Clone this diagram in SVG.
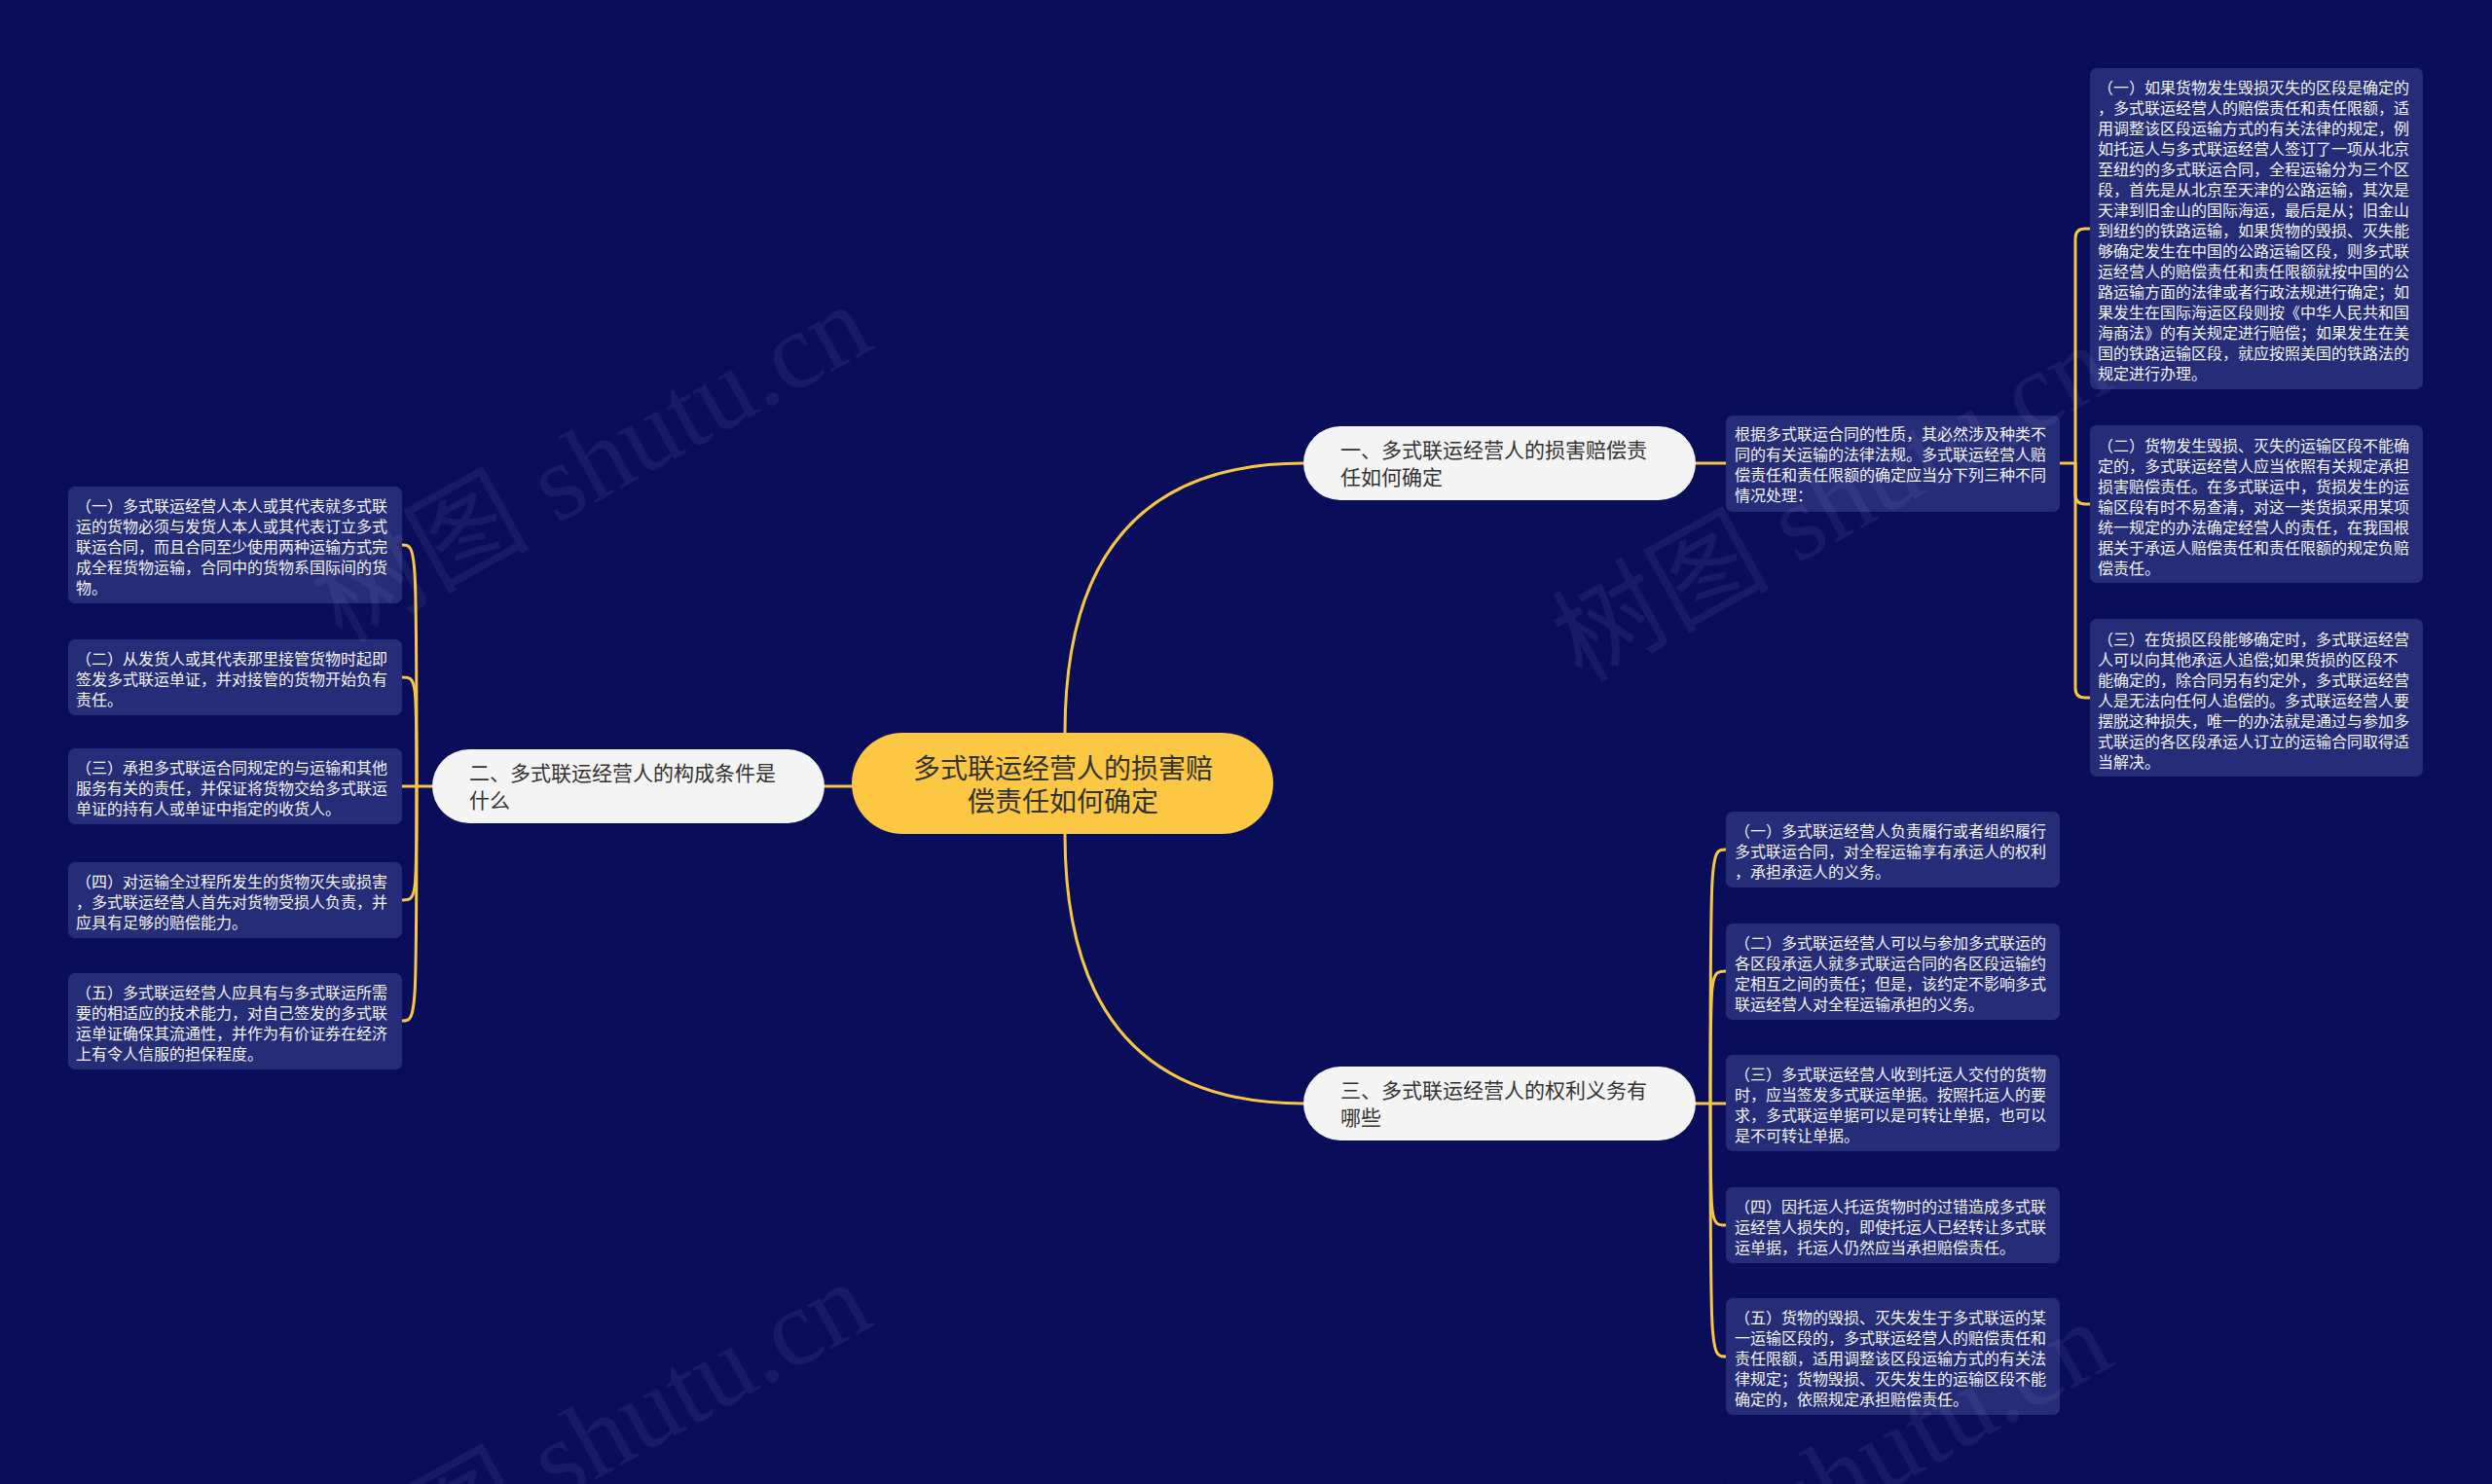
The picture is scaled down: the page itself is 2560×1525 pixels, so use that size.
<svg xmlns="http://www.w3.org/2000/svg" width="2560" height="1525" viewBox="0 0 2560 1525">
<style>
.bg{fill:#0a0e5a}
.conn{fill:none;stroke:#f6c644;stroke-width:3;stroke-linecap:round}
.box{fill:#262d78}
.bt{font-family:"Noto Sans CJK SC","Noto Sans",sans-serif;font-size:16px;fill:#f4f4f8}
.pill{fill:#f4f4f4}
.pt{font-family:"Noto Sans CJK SC","Noto Sans",sans-serif;font-size:21px;fill:#333333}
.root{fill:#fcc742}
.rt{font-family:"Noto Sans CJK SC","Noto Sans",sans-serif;font-size:28px;fill:#333333}
.wm{font-family:"Liberation Serif","Noto Sans CJK SC",serif;font-size:112px;fill:#ffffff;opacity:0.05}
</style>
<rect class="bg" x="0" y="0" width="2560" height="1525"/>

<g id="connectors">
  <path class="conn" d="M1094 753 Q1094 476 1339 476"/>
  <path class="conn" d="M1094 857 Q1094 1134 1339 1134"/>
  <path class="conn" d="M875 808 L847 808"/>
  <path class="conn" d="M1742 476 L1773 476"/>
  <path class="conn" d="M2116 476 L2132 476"/>
  <path class="conn" d="M2132 476 L2132 245 Q2132 235 2142 235 L2147 235"/>
  <path class="conn" d="M2132 476 L2132 508 Q2132 518 2142 518 L2147 518"/>
  <path class="conn" d="M2132 476 L2132 707 Q2132 717 2142 717 L2147 717"/>
  <path class="conn" d="M1742 1134 L1773 1134"/>
  <path class="conn" d="M1757 1134 C1757 873 1757 873 1773 873"/>
  <path class="conn" d="M1757 1134 C1757 998 1757 998 1773 998"/>
  <path class="conn" d="M1757 1134 C1757 1259 1757 1259 1773 1259"/>
  <path class="conn" d="M1757 1134 C1757 1394 1757 1394 1773 1394"/>
  <path class="conn" d="M444 808 L413 808"/>
  <path class="conn" d="M428 808 C428 560 428 560 413 560"/>
  <path class="conn" d="M428 808 C428 696 428 696 413 696"/>
  <path class="conn" d="M428 808 C428 925 428 925 413 925"/>
  <path class="conn" d="M428 808 C428 1049 428 1049 413 1049"/>
</g>

<g id="root">
  <rect class="root" x="875" y="753" width="433" height="104" rx="52"/>
  <text class="rt" text-anchor="middle" x="1092" y="800">多式联运经营人的损害赔<tspan x="1092" dy="34">偿责任如何确定</tspan></text>
</g>

<g id="b1">
  <rect class="pill" x="1339" y="438" width="403" height="76" rx="38"/>
  <text class="pt" x="1377" y="470">一、多式联运经营人的损害赔偿责<tspan x="1377" dy="28">任如何确定</tspan></text>
</g>
<g id="b2">
  <rect class="pill" x="444" y="770" width="403" height="76" rx="38"/>
  <text class="pt" x="482" y="802">二、多式联运经营人的构成条件是<tspan x="482" dy="28">什么</tspan></text>
</g>
<g id="b3">
  <rect class="pill" x="1339" y="1096" width="403" height="76" rx="38"/>
  <text class="pt" x="1377" y="1128">三、多式联运经营人的权利义务有<tspan x="1377" dy="28">哪些</tspan></text>
</g>

<g id="b1-intro">
  <rect class="box" x="1773" y="427" width="343" height="99" rx="7"/>
  <text class="bt" x="1782" y="452">根据多式联运合同的性质，其必然涉及种类不<tspan x="1782" dy="21">同的有关运输的法律法规。多式联运经营人赔</tspan><tspan x="1782" dy="21">偿责任和责任限额的确定应当分下列三种不同</tspan><tspan x="1782" dy="21">情况处理：</tspan></text>
</g>

<g id="r1">
  <rect class="box" x="2147" y="70" width="342" height="330" rx="7"/>
  <text class="bt" x="2155" y="96">（一）如果货物发生毁损灭失的区段是确定的<tspan x="2155" dy="21">，多式联运经营人的赔偿责任和责任限额，适</tspan><tspan x="2155" dy="21">用调整该区段运输方式的有关法律的规定，例</tspan><tspan x="2155" dy="21">如托运人与多式联运经营人签订了一项从北京</tspan><tspan x="2155" dy="21">至纽约的多式联运合同，全程运输分为三个区</tspan><tspan x="2155" dy="21">段，首先是从北京至天津的公路运输，其次是</tspan><tspan x="2155" dy="21">天津到旧金山的国际海运，最后是从；旧金山</tspan><tspan x="2155" dy="21">到纽约的铁路运输，如果货物的毁损、灭失能</tspan><tspan x="2155" dy="21">够确定发生在中国的公路运输区段，则多式联</tspan><tspan x="2155" dy="21">运经营人的赔偿责任和责任限额就按中国的公</tspan><tspan x="2155" dy="21">路运输方面的法律或者行政法规进行确定；如</tspan><tspan x="2155" dy="21">果发生在国际海运区段则按《中华人民共和国</tspan><tspan x="2155" dy="21">海商法》的有关规定进行赔偿；如果发生在美</tspan><tspan x="2155" dy="21">国的铁路运输区段，就应按照美国的铁路法的</tspan><tspan x="2155" dy="21">规定进行办理。</tspan></text>
</g>
<g id="r2">
  <rect class="box" x="2147" y="437" width="342" height="162" rx="7"/>
  <text class="bt" x="2155" y="464">（二）货物发生毁损、灭失的运输区段不能确<tspan x="2155" dy="21">定的，多式联运经营人应当依照有关规定承担</tspan><tspan x="2155" dy="21">损害赔偿责任。在多式联运中，货损发生的运</tspan><tspan x="2155" dy="21">输区段有时不易查清，对这一类货损采用某项</tspan><tspan x="2155" dy="21">统一规定的办法确定经营人的责任，在我国根</tspan><tspan x="2155" dy="21">据关于承运人赔偿责任和责任限额的规定负赔</tspan><tspan x="2155" dy="21">偿责任。</tspan></text>
</g>
<g id="r3">
  <rect class="box" x="2147" y="636" width="342" height="162" rx="7"/>
  <text class="bt" x="2155" y="663">（三）在货损区段能够确定时，多式联运经营<tspan x="2155" dy="21">人可以向其他承运人追偿;如果货损的区段不</tspan><tspan x="2155" dy="21">能确定的，除合同另有约定外，多式联运经营</tspan><tspan x="2155" dy="21">人是无法向任何人追偿的。多式联运经营人要</tspan><tspan x="2155" dy="21">摆脱这种损失，唯一的办法就是通过与参加多</tspan><tspan x="2155" dy="21">式联运的各区段承运人订立的运输合同取得适</tspan><tspan x="2155" dy="21">当解决。</tspan></text>
</g>

<g id="s1">
  <rect class="box" x="1773" y="834" width="343" height="78" rx="7"/>
  <text class="bt" x="1782" y="860">（一）多式联运经营人负责履行或者组织履行<tspan x="1782" dy="21">多式联运合同，对全程运输享有承运人的权利</tspan><tspan x="1782" dy="21">，承担承运人的义务。</tspan></text>
</g>
<g id="s2">
  <rect class="box" x="1773" y="949" width="343" height="99" rx="7"/>
  <text class="bt" x="1782" y="975">（二）多式联运经营人可以与参加多式联运的<tspan x="1782" dy="21">各区段承运人就多式联运合同的各区段运输约</tspan><tspan x="1782" dy="21">定相互之间的责任；但是，该约定不影响多式</tspan><tspan x="1782" dy="21">联运经营人对全程运输承担的义务。</tspan></text>
</g>
<g id="s3">
  <rect class="box" x="1773" y="1084" width="343" height="99" rx="7"/>
  <text class="bt" x="1782" y="1110">（三）多式联运经营人收到托运人交付的货物<tspan x="1782" dy="21">时，应当签发多式联运单据。按照托运人的要</tspan><tspan x="1782" dy="21">求，多式联运单据可以是可转让单据，也可以</tspan><tspan x="1782" dy="21">是不可转让单据。</tspan></text>
</g>
<g id="s4">
  <rect class="box" x="1773" y="1220" width="343" height="78" rx="7"/>
  <text class="bt" x="1782" y="1246">（四）因托运人托运货物时的过错造成多式联<tspan x="1782" dy="21">运经营人损失的，即使托运人已经转让多式联</tspan><tspan x="1782" dy="21">运单据，托运人仍然应当承担赔偿责任。</tspan></text>
</g>
<g id="s5">
  <rect class="box" x="1773" y="1334" width="343" height="120" rx="7"/>
  <text class="bt" x="1782" y="1360">（五）货物的毁损、灭失发生于多式联运的某<tspan x="1782" dy="21">一运输区段的，多式联运经营人的赔偿责任和</tspan><tspan x="1782" dy="21">责任限额，适用调整该区段运输方式的有关法</tspan><tspan x="1782" dy="21">律规定；货物毁损、灭失发生的运输区段不能</tspan><tspan x="1782" dy="21">确定的，依照规定承担赔偿责任。</tspan></text>
</g>

<g id="l1">
  <rect class="box" x="70" y="500" width="343" height="120" rx="7"/>
  <text class="bt" x="78" y="526">（一）多式联运经营人本人或其代表就多式联<tspan x="78" dy="21">运的货物必须与发货人本人或其代表订立多式</tspan><tspan x="78" dy="21">联运合同，而且合同至少使用两种运输方式完</tspan><tspan x="78" dy="21">成全程货物运输，合同中的货物系国际间的货</tspan><tspan x="78" dy="21">物。</tspan></text>
</g>
<g id="l2">
  <rect class="box" x="70" y="657" width="343" height="78" rx="7"/>
  <text class="bt" x="78" y="683">（二）从发货人或其代表那里接管货物时起即<tspan x="78" dy="21">签发多式联运单证，并对接管的货物开始负有</tspan><tspan x="78" dy="21">责任。</tspan></text>
</g>
<g id="l3">
  <rect class="box" x="70" y="769" width="343" height="78" rx="7"/>
  <text class="bt" x="78" y="795">（三）承担多式联运合同规定的与运输和其他<tspan x="78" dy="21">服务有关的责任，并保证将货物交给多式联运</tspan><tspan x="78" dy="21">单证的持有人或单证中指定的收货人。</tspan></text>
</g>
<g id="l4">
  <rect class="box" x="70" y="886" width="343" height="78" rx="7"/>
  <text class="bt" x="78" y="912">（四）对运输全过程所发生的货物灭失或损害<tspan x="78" dy="21">，多式联运经营人首先对货物受损人负责，并</tspan><tspan x="78" dy="21">应具有足够的赔偿能力。</tspan></text>
</g>
<g id="l5">
  <rect class="box" x="70" y="1000" width="343" height="99" rx="7"/>
  <text class="bt" x="78" y="1026">（五）多式联运经营人应具有与多式联运所需<tspan x="78" dy="21">要的相适应的技术能力，对自己签发的多式联</tspan><tspan x="78" dy="21">运单证确保其流通性，并作为有价证券在经济</tspan><tspan x="78" dy="21">上有令人信服的担保程度。</tspan></text>
</g>

<g id="watermark">
  <text class="wm" transform="translate(351 661) rotate(-29)">树图 shutu.cn</text>
  <text class="wm" transform="translate(1625 702) rotate(-29)">树图 shutu.cn</text>
  <text class="wm" transform="translate(351 1665) rotate(-29)">树图 shutu.cn</text>
  <text class="wm" transform="translate(1625 1706) rotate(-29)">树图 shutu.cn</text>
</g>
</svg>
